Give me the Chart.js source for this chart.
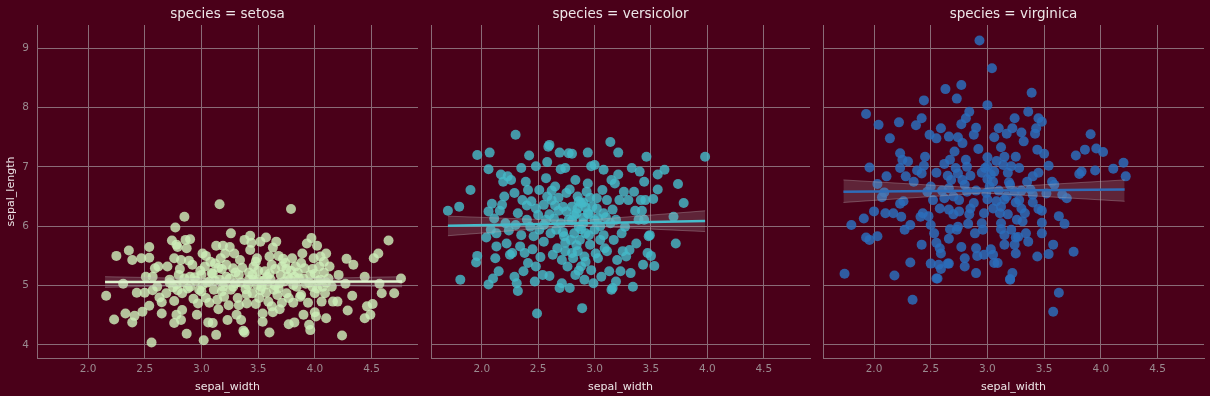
<!DOCTYPE html>
<html>
<head>
<meta charset="utf-8">
<script src="https://cdn.jsdelivr.net/npm/chart.js@4.4.1/dist/chart.umd.min.js"></script>
<style>
  html, body { margin: 0; padding: 0; background: #4a0019; }
  #wrap { position: relative; width: 1210px; height: 396px; overflow: hidden; }
  .panel { position: absolute; top: 0; height: 396px; }
</style>
</head>
<body>
<div id="wrap">
  <div class="panel" style="left:0;width:425px"><canvas id="c1"></canvas></div>
  <div class="panel" style="left:425px;width:390px"><canvas id="c2"></canvas></div>
  <div class="panel" style="left:815px;width:395px"><canvas id="c3"></canvas></div>
</div>
<script>
// tick labels / axis limits
xTicks = [2.0, 2.5, 3.0, 3.5, 4.0, 4.5]
yTicks = [4, 5, 6, 7, 8, 9]
xMin = 1.55
xMax = 4.91
yMin = 3.78
yMax = 9.39

species = ['setosa', 'versicolor', 'virginica']

// [sepal_width, sepal_length]
setosaPoints = [
  [2.16,4.83],[2.23,4.43],[2.25,5.50],[2.31,5.03],[2.33,4.53],[2.36,5.59],[2.39,5.43],[2.39,4.38],[2.41,4.49],[2.43,4.88],
  [2.47,5.46],[2.48,4.56],[2.50,4.88],[2.51,5.15],[2.54,5.65],[2.54,5.47],[2.54,4.66],[2.56,4.04],[2.57,4.92],[2.57,5.15],
  [2.59,5.29],[2.61,4.98],[2.62,5.32],[2.63,4.80],[2.65,4.53],[2.65,4.72],[2.69,4.87],[2.70,5.32],[2.72,5.10],[2.74,5.76],
  [2.75,4.97],[2.76,4.37],[2.76,4.74],[2.76,5.46],[2.77,5.98],[2.78,5.69],[2.78,4.51],[2.79,5.65],[2.79,4.92],[2.81,5.28],
  [2.82,5.43],[2.82,4.42],[2.83,4.59],[2.83,4.87],[2.84,5.05],[2.85,6.16],[2.86,5.77],[2.87,4.19],[2.87,5.63],[2.89,5.42],
  [2.90,5.78],[2.90,4.98],[2.92,5.35],[2.93,4.78],[2.94,5.14],[2.96,4.51],[2.97,4.70],[2.98,4.93],[2.99,5.25],[3.01,5.54],
  [3.01,5.01],[3.02,4.08],[3.03,5.32],[3.04,4.79],[3.04,5.50],[3.06,4.38],[3.07,5.07],[3.07,4.71],[3.09,5.21],[3.10,4.37],
  [3.11,4.93],[3.12,5.37],[3.13,5.67],[3.13,4.17],[3.14,4.76],[3.15,4.60],[3.16,6.37],[3.16,5.10],[3.17,5.46],[3.18,5.28],
  [3.19,5.67],[3.19,4.98],[3.20,4.81],[3.21,5.54],[3.22,5.15],[3.23,4.42],[3.24,4.67],[3.25,5.65],[3.26,5.88],[3.26,4.93],
  [3.28,5.29],[3.29,5.54],[3.30,5.04],[3.31,4.51],[3.32,4.79],[3.33,4.67],[3.33,5.18],[3.34,5.43],[3.35,4.42],[3.37,4.24],
  [3.38,4.21],[3.38,5.77],[3.39,4.94],[3.40,4.70],[3.41,5.01],[3.42,5.22],[3.43,5.60],[3.43,5.84],[3.44,5.72],[3.45,4.87],
  [3.46,5.10],[3.46,5.32],[3.48,4.69],[3.49,5.46],[3.49,5.01],[3.50,5.10],[3.51,4.79],[3.52,5.74],[3.53,4.98],[3.54,4.39],
  [3.54,4.53],[3.56,5.24],[3.57,5.81],[3.57,4.88],[3.59,4.73],[3.60,4.21],[3.60,5.49],[3.61,5.10],[3.62,4.65],[3.63,5.64],
  [3.63,4.55],[3.64,4.93],[3.65,5.28],[3.66,5.74],[3.67,4.84],[3.68,5.50],[3.69,5.04],[3.69,4.60],[3.71,5.32],[3.71,4.71],
  [3.73,5.07],[3.74,5.38],[3.75,4.87],[3.76,5.15],[3.77,4.35],[3.77,4.79],[3.79,5.25],[3.79,6.29],[3.80,5.46],[3.81,5.01],
  [3.81,4.71],[3.82,4.38],[3.83,5.32],[3.84,4.98],[3.86,5.12],[3.87,4.81],[3.88,4.84],[3.89,5.54],[3.90,4.51],[3.91,5.29],
  [3.92,5.03],[3.93,5.71],[3.94,4.71],[3.95,4.34],[3.96,4.25],[3.96,5.18],[3.97,5.80],[3.98,4.98],[3.99,5.46],[4.00,4.55],
  [4.00,4.87],[4.01,4.48],[4.02,5.67],[4.03,5.08],[4.04,5.32],[4.05,5.49],[4.06,4.73],[4.07,4.98],[4.08,5.22],[4.09,4.87],
  [4.10,5.54],[4.10,4.45],[4.12,5.12],[4.13,5.32],[4.15,4.98],[4.16,4.73],[4.20,4.73],[4.21,5.18],[4.24,4.16],[4.27,5.03],
  [4.28,5.45],[4.29,4.58],[4.33,4.83],[4.34,5.35],[4.44,4.45],[4.44,5.15],[4.46,4.65],[4.49,4.51],[4.51,4.69],[4.52,5.46],
  [4.56,5.54],[4.57,5.03],[4.59,4.87],[4.65,5.76],[4.70,4.87],[4.76,5.12],
  [2.72,5.05],[2.78,5.02],[2.85,5.12],[2.95,5.08],[3.00,5.18],[3.05,5.05],[3.10,5.20],[3.15,5.30],[3.20,5.05],[3.25,5.12],
  [3.30,5.22],[3.35,5.05],[3.45,5.18],[3.50,5.25],[3.55,5.08],[3.60,5.20],[3.65,5.00],[3.70,5.18],[3.78,5.10],[3.85,5.22],
  [3.90,5.12],[4.00,5.20],[4.05,5.10],[4.10,5.05],[3.58,5.15],[3.42,5.10],[3.12,5.08],[2.90,5.15],[3.75,5.28],[3.95,5.05],
  [2.80,5.18],[2.88,4.95],[3.00,4.90],[3.08,5.40],[3.18,4.90],[3.22,5.35],[3.28,4.98],[3.36,5.30],[3.48,5.40],[3.52,4.92],
  [3.62,5.35],[3.68,4.95],[3.72,5.45],[3.82,5.15],[3.88,5.38],[3.98,5.28],[4.02,4.95],[4.08,5.40],[3.40,4.85],[3.58,5.02]
]

versicolorPoints = [
  [1.70,6.26],[1.80,6.33],[1.81,5.10],[1.90,6.61],[1.95,5.39],[1.96,5.50],[1.96,7.20],[2.04,5.81],[2.06,5.02],[2.06,6.96],
  [2.07,7.24],[2.06,6.25],[2.08,5.94],[2.09,6.38],[2.10,5.12],[2.11,6.13],[2.12,5.46],[2.13,5.66],[2.13,5.88],[2.15,5.24],
  [2.16,6.26],[2.17,6.87],[2.18,6.36],[2.19,6.75],[2.21,6.05],[2.22,5.71],[2.23,6.84],[2.24,5.93],[2.25,5.52],[2.26,6.78],
  [2.27,5.55],[2.29,5.15],[2.29,6.56],[2.30,7.54],[2.31,5.04],[2.32,6.22],[2.32,4.91],[2.34,5.66],[2.35,6.98],[2.35,5.85],
  [2.36,6.44],[2.37,5.24],[2.38,5.55],[2.39,6.75],[2.40,6.11],[2.41,6.61],[2.41,5.38],[2.42,7.19],[2.43,5.99],[2.44,6.42],
  [2.45,5.61],[2.46,5.83],[2.47,5.07],[2.48,5.32],[2.48,7.01],[2.49,4.53],[2.50,6.19],[2.51,5.94],[2.51,6.61],[2.52,5.48],
  [2.54,5.18],[2.55,6.36],[2.55,5.74],[2.57,6.11],[2.57,6.81],[2.58,7.08],[2.59,7.34],[2.60,7.37],[2.60,5.16],[2.61,5.88],
  [2.62,6.44],[2.63,5.52],[2.64,6.13],[2.65,6.67],[2.66,5.94],[2.67,5.63],[2.68,6.26],[2.69,7.24],[2.69,4.96],[2.70,6.96],
  [2.71,5.43],[2.71,5.04],[2.72,6.33],[2.73,5.83],[2.74,6.98],[2.74,5.58],[2.75,6.56],[2.76,5.32],[2.77,6.11],[2.77,7.23],
  [2.78,4.96],[2.79,5.77],[2.80,7.22],[2.80,6.33],[2.81,5.46],[2.82,5.88],[2.83,6.78],[2.83,5.18],[2.84,6.22],[2.85,6.50],
  [2.85,5.58],[2.86,5.99],[2.87,5.77],[2.88,5.32],[2.88,6.39],[2.89,4.62],[2.90,6.14],[2.91,5.49],[2.91,5.10],[2.92,5.88],
  [2.93,6.58],[2.94,6.22],[2.94,7.24],[2.94,6.72],[2.96,5.69],[2.97,7.01],[2.97,5.26],[2.98,6.33],[2.99,5.04],[3.00,7.03],
  [3.00,5.94],[3.01,5.54],[3.02,6.47],[3.03,5.46],[3.03,6.14],[3.05,5.77],[3.06,5.15],[3.07,6.61],[3.08,6.95],[3.08,6.22],
  [3.09,5.63],[3.11,6.44],[3.11,5.58],[3.13,5.24],[3.14,6.05],[3.14,7.42],[3.15,4.93],[3.15,6.78],[3.16,6.28],[3.16,4.96],
  [3.17,5.77],[3.18,6.72],[3.19,5.07],[3.19,6.11],[3.20,5.43],[3.21,6.87],[3.21,7.24],[3.22,6.44],[3.23,5.24],[3.24,5.88],
  [3.25,5.58],[3.26,6.58],[3.27,5.99],[3.28,5.49],[3.30,6.44],[3.31,5.60],[3.32,5.21],[3.33,6.98],[3.34,4.98],[3.35,6.58],
  [3.36,6.26],[3.37,5.71],[3.39,6.11],[3.40,6.92],[3.41,6.44],[3.42,6.26],[3.43,5.35],[3.44,6.75],[3.44,6.11],[3.45,6.44],
  [3.46,7.17],[3.47,5.55],[3.48,5.83],[3.49,5.85],[3.50,5.50],[3.52,6.46],[3.53,5.33],[3.56,6.87],[3.56,6.62],[3.62,6.95],
  [3.70,6.16],[3.72,5.71],[3.74,6.71],[3.79,6.39],[3.98,7.17],
  [2.60,6.20],[2.70,6.05],[2.75,6.25],[2.80,6.10],[2.85,6.30],[2.90,6.05],[2.95,6.20],[3.00,6.10],[2.65,6.35],[2.55,6.02],
  [2.82,6.18],[2.92,6.32],[3.05,6.00],[2.72,5.90],[2.88,5.95],
  [2.62,6.60],[2.68,6.48],[2.78,6.62],[2.86,6.42],[2.96,6.48],[3.02,6.30],[3.10,6.15],[2.58,6.50],[2.74,5.72],[2.84,5.68],
  [2.92,5.40],[2.80,5.55],[2.86,5.25],[2.95,5.85],[3.08,5.85],[2.48,6.30],[2.40,6.35],[2.30,6.02],[2.20,6.50],[2.90,6.40]
]

virginicaPoints = [
  [2.93,9.13],[3.04,8.66],[2.63,8.31],[2.77,8.38],[2.73,8.15],[3.39,8.25],[2.44,8.12],[3.00,8.04],[1.93,7.89],[2.04,7.71],
  [2.22,7.75],[2.37,7.70],[2.42,7.82],[2.14,7.48],[2.84,7.93],[2.81,7.82],[2.77,7.72],[3.24,7.82],[3.36,7.93],[3.45,7.82],
  [3.48,7.76],[3.43,7.65],[3.42,7.56],[2.90,7.66],[3.10,7.65],[3.22,7.65],[3.30,7.58],[2.59,7.65],[2.49,7.54],[2.55,7.48],
  [2.66,7.51],[2.74,7.50],[2.88,7.54],[3.06,7.50],[3.17,7.56],[3.32,7.43],[3.91,7.55],[3.86,7.29],[3.96,7.31],[4.02,7.25],
  [3.78,7.19],[4.20,7.07],[4.11,6.97],[4.22,6.84],[3.95,6.94],[3.83,6.92],[3.81,6.88],[1.96,6.99],[2.23,7.23],[2.25,7.12],
  [2.30,7.09],[2.23,6.98],[2.11,6.84],[2.03,6.71],[2.09,6.57],[2.07,6.49],[2.10,6.22],[2.00,6.25],[1.91,6.13],[1.80,6.02],
  [1.93,5.81],[1.96,5.77],[2.03,5.83],[1.74,5.20],[2.18,5.17],[2.34,4.76],[2.32,5.39],[2.27,5.94],[2.32,6.02],[2.17,6.22],
  [2.24,6.16],[2.23,6.38],[2.26,6.42],[2.28,6.84],[2.35,6.75],[2.38,6.94],[2.42,6.89],[2.45,7.17],[2.44,7.02],[2.47,6.58],
  [2.50,6.67],[2.52,6.44],[2.41,6.16],[2.43,6.22],[2.48,6.17],[2.50,6.02],[2.53,5.88],[2.55,5.72],[2.58,5.63],[2.59,5.54],
  [2.42,5.69],[2.50,5.37],[2.57,5.35],[2.59,5.28],[2.55,5.12],[2.66,5.37],[2.66,5.79],[2.67,5.95],[2.66,6.28],[2.62,6.47],
  [2.66,6.64],[2.68,6.78],[2.72,6.98],[2.67,7.12],[2.71,7.26],[2.78,7.40],[2.81,7.12],[2.74,6.89],[2.78,6.78],[2.82,6.58],
  [2.75,6.44],[2.74,5.99],[2.73,5.94],[2.77,5.65],[2.80,5.46],[2.80,5.32],[2.83,6.04],[2.85,6.30],[2.88,6.39],[2.89,5.88],
  [2.90,5.63],[2.91,5.50],[2.90,5.21],[2.96,5.94],[2.97,6.22],[2.99,6.56],[3.00,7.16],[3.00,7.01],[3.03,6.87],[3.05,6.75],
  [2.97,5.52],[3.03,5.61],[3.05,5.52],[3.06,5.38],[3.09,5.38],[3.08,6.42],[3.11,6.22],[3.12,6.05],[3.15,5.85],[3.15,5.69],
  [3.20,5.10],[3.22,5.21],[3.12,7.33],[3.15,7.17],[3.21,7.01],[3.25,7.17],[3.19,6.74],[3.24,6.58],[3.28,6.44],[3.33,6.22],
  [3.26,6.11],[3.21,5.94],[3.25,5.81],[3.24,5.69],[3.25,5.54],[3.34,5.88],[3.36,5.74],[3.31,6.08],[3.40,6.53],[3.45,6.29],
  [3.48,6.26],[3.48,6.06],[3.44,5.49],[3.48,5.88],[3.54,5.53],[3.58,5.69],[3.63,6.17],[3.68,6.04],[3.70,6.47],[3.66,6.53],
  [3.57,6.75],[3.59,6.70],[3.54,7.02],[3.50,7.22],[3.44,7.29],[3.40,6.84],[3.76,5.57],[3.63,4.88],[3.58,4.56],[3.20,5.11],
  [2.56,5.12],[2.65,5.37],[3.27,5.82],[3.00,6.79],[3.02,6.67],[3.06,6.92],[3.14,7.03],[3.17,6.50],[3.12,6.33],
  [2.60,6.60],[2.70,6.50],[2.80,6.70],[2.90,6.60],[3.00,6.45],[3.10,6.60],[3.20,6.70],[3.30,6.60],[2.85,6.85],[3.15,6.45],
  [2.95,6.90],[3.25,6.40],[2.65,6.85],[3.35,6.75],[2.75,6.25],
  [2.55,6.90],[2.62,7.05],[2.82,7.00],[2.92,7.30],[2.98,6.98],[3.08,7.10],[3.18,6.90],[3.28,6.98],[3.38,6.62],[3.45,6.90],
  [3.52,6.55],[3.30,6.30],[3.18,6.20],[3.05,6.30],[2.95,6.05],[2.84,6.20],[2.70,6.20],[2.58,6.30],[3.40,6.40],[3.12,5.95]
]

// regression fit and its confidence band
fitLines = {
  setosa:     [[2.15,5.06],[4.77,5.07]],
  versicolor: [[1.70,6.01],[3.98,6.09]],
  virginica:  [[1.73,6.58],[4.21,6.62]]
}
bandUpper = {
  setosa:     [[2.15,5.15],[3.45,5.10],[4.77,5.15]],
  versicolor: [[1.70,6.17],[2.85,6.09],[3.98,6.26]],
  virginica:  [[1.73,6.78],[2.97,6.64],[4.21,6.78]]
}
bandLower = {
  setosa:     [[2.15,4.97],[3.45,5.02],[4.77,4.98]],
  versicolor: [[1.70,5.84],[2.85,6.01],[3.98,5.91]],
  virginica:  [[1.73,6.40],[2.97,6.56],[4.21,6.42]]
}

pointColors = {
  setosa: 'rgba(205,238,186,0.82)',
  versicolor: 'rgba(68,186,200,0.82)',
  virginica: 'rgba(44,108,186,0.85)'
}
lineColors = {
  setosa: '#dff3cf',
  versicolor: '#45bccb',
  virginica: '#2f6cb8'
}
allPoints = { setosa: setosaPoints, versicolor: versicolorPoints, virginica: virginicaPoints }

gridColor = '#8a6b77'
tickColor = '#9a8a90'
labelColor = '#eee6e8'
fontFamily = '"DejaVu Sans", sans-serif'

function toXY(list) {
  return list.map(function (p) { return { x: p[0], y: p[1] } })
}

// title drawn over the centre of the plot area, like the facet titles
panelTitle = {
  id: 'panelTitle',
  afterDraw: function (chart, args, opts) {
    var ctx = chart.ctx
    var area = chart.chartArea
    ctx.save()
    ctx.font = '13.5px ' + fontFamily
    ctx.fillStyle = labelColor
    ctx.textAlign = 'center'
    ctx.textBaseline = 'middle'
    ctx.fillText(opts.text, (area.left + area.right) / 2, 14)
    ctx.restore()
  }
}

function makePanel(canvasId, name, yAxisWidth, rightPad, showYLabels) {
  var ctx = document.getElementById(canvasId).getContext('2d')
  return new Chart(ctx, {
    type: 'scatter',
    data: {
      datasets: [
        {
          type: 'line',
          data: toXY(fitLines[name]),
          borderColor: lineColors[name],
          borderWidth: 2.5,
          pointRadius: 0,
          fill: false,
          order: 0
        },
        {
          type: 'line',
          data: toXY(bandUpper[name]),
          borderColor: 'rgba(190,180,185,0.35)',
          borderWidth: 1,
          pointRadius: 0,
          fill: false,
          order: 1
        },
        {
          type: 'line',
          data: toXY(bandLower[name]),
          borderColor: 'rgba(190,180,185,0.35)',
          borderWidth: 1,
          pointRadius: 0,
          backgroundColor: 'rgba(175,165,170,0.22)',
          fill: '-1',
          order: 1
        },
        {
          data: toXY(allPoints[name]),
          backgroundColor: pointColors[name],
          borderColor: pointColors[name],
          borderWidth: 0,
          pointRadius: 5,
          order: 2
        }
      ]
    },
    options: {
      responsive: true,
      maintainAspectRatio: false,
      animation: false,
      events: [],
      layout: { padding: { top: 25, right: rightPad, bottom: 0, left: 0 } },
      plugins: {
        legend: { display: false },
        tooltip: { enabled: false },
        panelTitle: { text: 'species = ' + name }
      },
      scales: {
        x: {
          type: 'linear',
          min: xMin,
          max: xMax,
          afterBuildTicks: function (scale) {
            scale.ticks = xTicks.map(function (v) { return { value: v } })
          },
          afterFit: function (scale) { scale.height = 38 },
          grid: { color: gridColor, lineWidth: 1, drawTicks: false },
          border: { color: gridColor, width: 1 },
          ticks: {
            color: tickColor,
            padding: 5,
            font: { family: fontFamily, size: 10.5 },
            callback: function (v) { return Number(v).toFixed(1) }
          },
          title: {
            display: true,
            text: 'sepal_width',
            color: labelColor,
            padding: { top: 0, bottom: 2 },
            font: { family: fontFamily, size: 11 }
          }
        },
        y: {
          type: 'linear',
          min: yMin,
          max: yMax,
          afterBuildTicks: function (scale) {
            scale.ticks = yTicks.map(function (v) { return { value: v } })
          },
          afterFit: function (scale) { scale.width = yAxisWidth },
          grid: { color: gridColor, lineWidth: 1, drawTicks: false },
          border: { color: gridColor, width: 1 },
          ticks: {
            display: showYLabels,
            color: tickColor,
            padding: 8,
            font: { family: fontFamily, size: 10.5 }
          },
          title: {
            display: showYLabels,
            text: 'sepal_length',
            color: labelColor,
            padding: { top: 5, bottom: 0 },
            font: { family: fontFamily, size: 11 }
          }
        }
      }
    },
    plugins: [panelTitle]
  })
}

makePanel('c1', species[0], 37, 7, true)
makePanel('c2', species[1], 6, 3, false)
makePanel('c3', species[2], 8, 6, false)
</script>
</body>
</html>
